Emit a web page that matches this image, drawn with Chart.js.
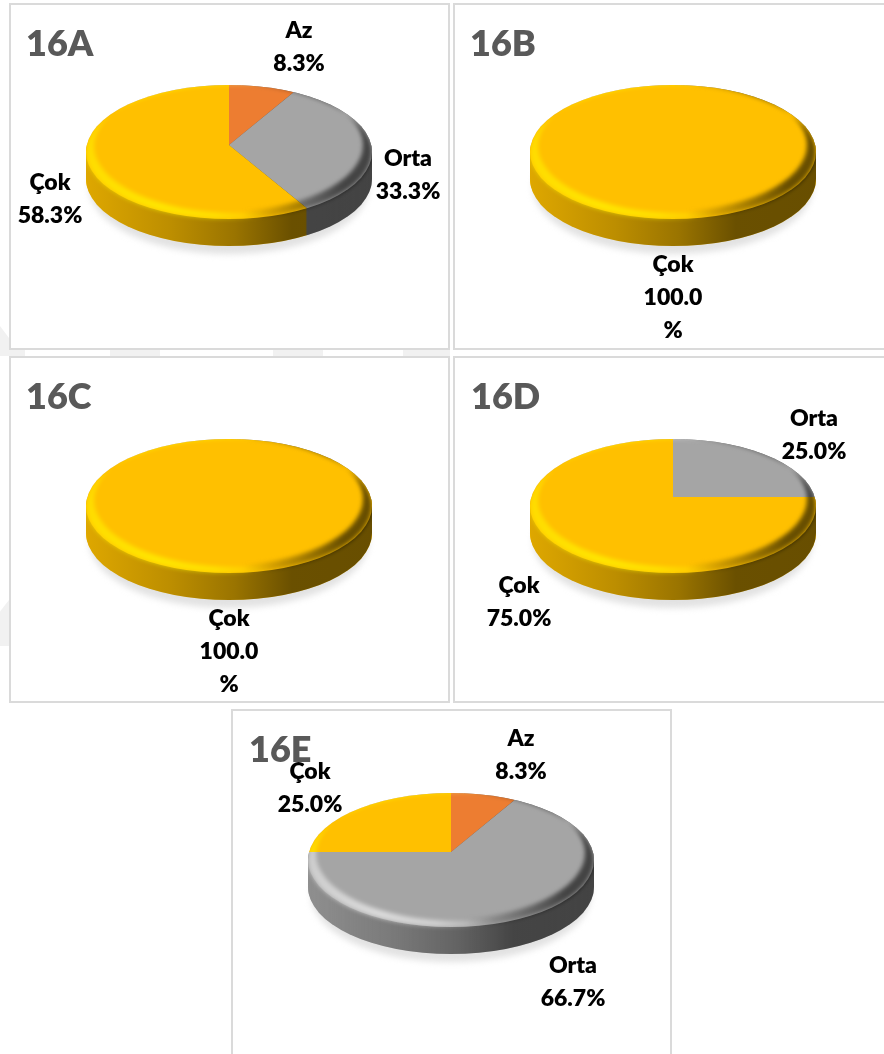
<!DOCTYPE html>
<html>
<head>
<meta charset="utf-8">
<title>16A-16E</title>
<script src="https://cdn.jsdelivr.net/npm/chart.js@4"></script>
<style>
  html, body { margin: 0; padding: 0; background: #fff; }
  body { width: 884px; height: 1054px; position: relative; overflow: hidden; font-family: Lato, "Open Sans", sans-serif; }
  .panel { position: absolute; box-sizing: border-box; border: 2px solid #dadada; background: #fff; }
  .mark { position: absolute; background: #f1f1f1; }
  canvas { position: absolute; left: 0; top: 0; }
  .title { position: absolute; font-weight: 800; font-size: 36px; line-height: 40px; color: #595959; white-space: nowrap; }
  .label { position: absolute; font-weight: 800; font-size: 23px; line-height: 33px; color: #000; text-align: center; width: 100px; margin-left: -50px; }
</style>
</head>
<body>
<script>
// values, slice order is the same in every chart
var categories = ["Az", "Orta", "Çok"];
var colors = ["#ED7D31", "#A5A5A5", "#FFC000"];

var titles = ["16A", "16B", "16C", "16D", "16E"];
var values16A = [8.3, 33.3, 58.3];
var values16B = [0, 0, 100];
var values16C = [0, 0, 100];
var values16D = [0, 25, 75];
var values16E = [8.3, 66.7, 25];
var allValues = [values16A, values16B, values16C, values16D, values16E];

// page layout: x, y, w, h of the frame, apex of the pie, ellipse centre y, title corner
var frames = [
  { x: 9,   y: 3,   w: 441, h: 347, ax: 229, ay: 145, ey: 152, tx: 26,  ty: 22 },
  { x: 453, y: 3,   w: 440, h: 347, ax: 673, ay: 145, ey: 152, tx: 470, ty: 22 },
  { x: 9,   y: 356, w: 441, h: 347, ax: 229, ay: 499, ey: 506, tx: 26,  ty: 375 },
  { x: 453, y: 356, w: 440, h: 347, ax: 673, ay: 497, ey: 506, tx: 471, ty: 375 },
  { x: 231, y: 709, w: 441, h: 355, ax: 451, ay: 852, ey: 860, tx: 249, ty: 728 }
];
// label anchors per chart, keyed by category (centre x, top of first line)
var anchors = [
  { "Az": [299, 13], "Orta": [408, 141], "Çok": [50, 165] },
  { "Çok": [673, 247] },
  { "Çok": [229, 601] },
  { "Orta": [814, 401], "Çok": [519, 568] },
  { "Az": [521, 721], "Orta": [573, 948], "Çok": [310, 754] }
];
// faint watermark pieces showing through between the frames
var markStrips = [[8, 25], [110, 160], [273, 323], [403, 450]];
var markSides = [
  "left:0;top:326px;width:9px;height:30px;clip-path:polygon(0 0,100% 40%,100% 100%,0 100%)",
  "left:0;top:600px;width:9px;height:46px;clip-path:polygon(0 25%,100% 0,100% 100%,0 100%)"
];

var RX = 143, RY = 67, DEPTH = 27, SQUASH = 0.47;

// disc look: squashed pie clipped to an ellipse, extruded downward
var discPlugin = {
  id: "disc",
  beforeDatasetsDraw: function (chart, args, opts) {
    var ctx = chart.ctx;
    var arcs = chart.getDatasetMeta(0).data;
    var c = arcs[0].getProps(["x", "y"]);
    var ax = opts.ax, ay = opts.ay;
    var ex = ax, ey = opts.ey;

    function face(dy) {
      ctx.save();
      ctx.beginPath();
      ctx.ellipse(ex, ey + dy, RX, RY, 0, 0, Math.PI * 2);
      ctx.clip();
      ctx.translate(ax, ay + dy);
      ctx.scale(1, SQUASH);
      ctx.translate(-c.x, -c.y);
      arcs.forEach(function (a) { a.draw(ctx); });
      ctx.restore();
    }

    function bodyPath() {
      ctx.beginPath();
      ctx.ellipse(ex, ey, RX, RY, 0, Math.PI, 0);
      ctx.lineTo(ex + RX, ey + DEPTH);
      ctx.ellipse(ex, ey + DEPTH, RX, RY, 0, 0, Math.PI);
      ctx.closePath();
    }

    // band between the face edge and the same ellipse pushed by sx, sy
    function crescent(sx, sy) {
      ctx.beginPath();
      ctx.ellipse(ex, ey, RX, RY, 0, 0, Math.PI * 2);
      ctx.ellipse(ex + sx, ey + sy, RX, RY, 0, 0, Math.PI * 2);
      ctx.fill("evenodd");
    }

    // soft shadow
    ctx.save();
    ctx.filter = "blur(3px)";
    ctx.fillStyle = "#e2e2e2";
    ctx.beginPath();
    ctx.ellipse(ex, ey + DEPTH + 8, RX - 3, RY, 0, 0, Math.PI * 2);
    ctx.fill();
    ctx.restore();

    // side wall
    for (var d = DEPTH; d >= 1; d--) face(d);
    ctx.save();
    bodyPath();
    ctx.clip();
    ctx.globalCompositeOperation = "multiply";
    var g = ctx.createLinearGradient(ex - RX, 0, ex + RX, 0);
    g.addColorStop(0, "#dedede");
    g.addColorStop(0.3, "#bcbcbc");
    g.addColorStop(0.52, "#9a9a9a");
    g.addColorStop(0.72, "#6a6a6a");
    g.addColorStop(1, "#686868");
    ctx.fillStyle = g;
    ctx.fillRect(ex - RX - 2, ey - RY, RX * 2 + 4, RY * 2 + DEPTH + 4);
    ctx.restore();

    // top
    face(0);

    // bevel: bright lip on the left and front, dark on the right
    ctx.save();
    bodyPath();
    ctx.clip();
    ctx.filter = "blur(2px)";
    ctx.globalCompositeOperation = "multiply";
    var k = ctx.createLinearGradient(ex + RX * 0.1, 0, ex + RX * 0.8, 0);
    k.addColorStop(0, "#ffffff");
    k.addColorStop(1, "#686868");
    ctx.fillStyle = k;
    crescent(-9, -7);
    ctx.globalCompositeOperation = "overlay";
    var h = ctx.createLinearGradient(ex - RX, 0, ex + RX, 0);
    h.addColorStop(0, "rgba(255,255,255,0.45)");
    h.addColorStop(0.25, "rgba(255,255,255,0.6)");
    h.addColorStop(0.45, "rgba(255,255,255,0.5)");
    h.addColorStop(0.65, "rgba(255,255,255,0)");
    ctx.fillStyle = h;
    crescent(8, -6);
    ctx.restore();

    return false; // arcs are already painted
  }
};

markStrips.forEach(function (s) {
  var m = document.createElement("div");
  m.className = "mark";
  m.style.cssText = "left:" + s[0] + "px;top:350px;width:" + (s[1] - s[0]) + "px;height:6px";
  document.body.appendChild(m);
});
markSides.forEach(function (css) {
  var m = document.createElement("div");
  m.className = "mark";
  m.style.cssText = css;
  document.body.appendChild(m);
});

frames.forEach(function (f, i) {
  var panel = document.createElement("div");
  panel.className = "panel";
  panel.style.cssText = "left:" + f.x + "px;top:" + f.y + "px;width:" + f.w + "px;height:" + f.h + "px";
  document.body.appendChild(panel);

  var canvas = document.createElement("canvas");
  canvas.width = 884;
  canvas.height = 1054;
  canvas.style.width = "884px";
  canvas.style.height = "1054px";
  document.body.appendChild(canvas);

  new Chart(canvas.getContext("2d"), {
    type: "pie",
    data: {
      labels: categories,
      datasets: [{ data: allValues[i], backgroundColor: colors, borderWidth: 0 }]
    },
    options: {
      responsive: false,
      animation: false,
      events: [],
      plugins: {
        legend: { display: false },
        tooltip: { enabled: false },
        disc: { ax: f.ax, ay: f.ay, ey: f.ey }
      }
    },
    plugins: [discPlugin]
  });

  var t = document.createElement("div");
  t.className = "title";
  t.style.left = f.tx + "px";
  t.style.top = f.ty + "px";
  t.textContent = titles[i];
  document.body.appendChild(t);

  categories.forEach(function (name, j) {
    var v = allValues[i][j];
    if (!v) return;
    var a = anchors[i][name];
    var l = document.createElement("div");
    l.className = "label";
    l.style.left = a[0] + "px";
    l.style.top = a[1] + "px";
    // the 100.0% labels wrap in the original
    l.innerHTML = name + "<br>" + (v === 100 ? "100.0<br>%" : v.toFixed(1) + "%");
    document.body.appendChild(l);
  });
});
</script>
</body>
</html>
